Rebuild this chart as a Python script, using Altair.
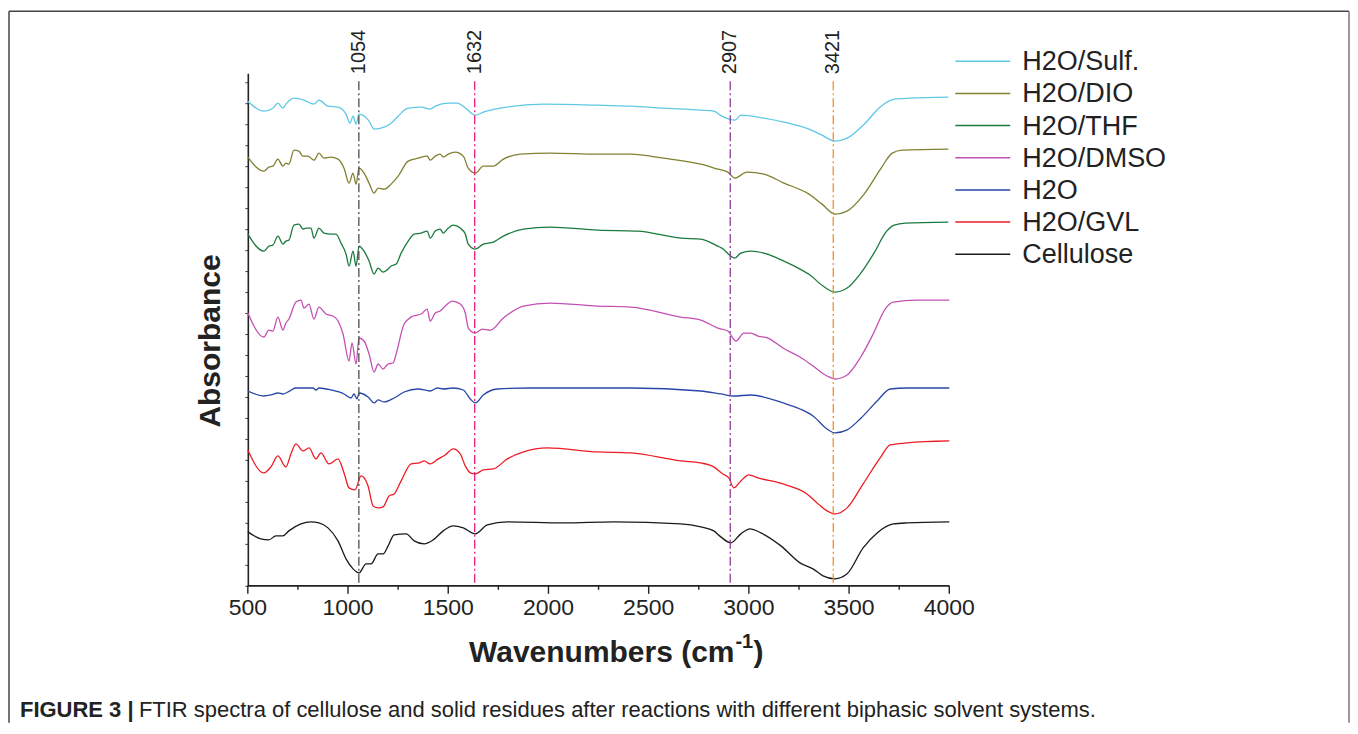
import altair as alt
import pandas as pd

FONT = "Liberation Sans, Arial, sans-serif"

series_names = ["H2O/Sulf.", "H2O/DIO", "H2O/THF", "H2O/DMSO", "H2O", "H2O/GVL", "Cellulose"]
series_colors = ["#5ec8e5", "#808030", "#1b7a3e", "#c450b4", "#2846a8", "#ee1c24", "#1a1a1a"]

# --- spectra (wavenumber cm-1, absorbance a.u. with vertical stacking offsets) ---
sulf_wn = [500, 580, 625, 650, 675, 690, 730, 780, 830, 855, 900, 950, 990, 1010, 1025, 1040, 1055,
           1105, 1130, 1180, 1215, 1250, 1300, 1365, 1410, 1435, 1500, 1545, 1575, 1635, 1675, 1760,
           1975, 2245, 2410, 2575, 2760, 2825, 2865, 2930, 2960, 3075, 3175, 3300, 3365, 3430, 3490,
           3575, 3660, 3725, 3805, 3995]
sulf_abs = [485, 475, 478, 483, 478, 482, 488, 486, 482, 486, 480, 479, 472, 463, 470, 462, 472,
            465, 457, 459, 463, 470, 478, 479, 477, 480, 483, 483, 480, 471, 474, 478,
            482, 481, 480, 478, 476, 475, 470, 466, 471, 468, 464, 457, 451, 445, 448,
            462, 480, 487, 488, 489]

dio_wn = [500, 580, 605, 625, 650, 675, 690, 705, 730, 755, 775, 800, 830, 855, 880, 915, 950, 980,
          1005, 1025, 1040, 1055, 1080, 1105, 1130, 1150, 1180, 1215, 1250, 1300, 1350, 1395, 1410,
          1435, 1460, 1475, 1500, 1535, 1575, 1600, 1635, 1675, 1725, 1775, 1860, 2010, 2245, 2410,
          2575, 2760, 2845, 2895, 2930, 2990, 3075, 3175, 3300, 3365, 3430, 3490, 3575, 3660, 3715,
          3765, 3995]
dio_abs = [429, 415, 419, 420, 427, 420, 423, 422, 436, 435, 430, 430, 426, 433, 428, 429, 427, 418,
           403, 413, 402, 418, 413, 403, 393, 398, 397, 402, 410, 425, 428, 430, 426,
           430, 432, 429, 432, 434, 430, 418, 413, 420, 420, 427, 432, 433, 432, 432,
           428, 422, 417, 414, 408, 414, 412, 403, 392, 382, 372, 375, 392, 418, 433,
           436, 437]

thf_wn = [500, 580, 605, 625, 650, 675, 690, 705, 730, 755, 775, 790, 815, 830, 855, 880, 915, 940,
          965, 990, 1005, 1025, 1040, 1055, 1080, 1105, 1130, 1150, 1175, 1200, 1215, 1240, 1265,
          1300, 1330, 1365, 1395, 1410, 1435, 1460, 1475, 1500, 1525, 1560, 1585, 1600, 1635, 1675,
          1725, 1775, 1875, 2010, 2245, 2445, 2660, 2760, 2845, 2865, 2930, 2960, 3010, 3075, 3175,
          3255, 3305, 3370, 3430, 3490, 3555, 3630, 3680, 3725, 3780, 3995]
thf_abs = [352, 335, 340, 341, 350, 342, 345, 346, 361, 362, 357, 358, 358, 348, 358, 353, 352, 352,
           343, 332, 320, 335, 320, 340, 335, 325, 312, 318, 314, 317, 320, 322, 333,
           345, 352, 353, 355, 348, 355, 357, 353, 358, 361, 358, 352, 342, 337, 342,
           344, 350, 357, 359, 356, 355, 348, 347, 340, 338, 328, 333, 335, 333, 325,
           317, 311, 300, 294, 298, 312, 335, 353, 361, 363, 364]

dmso_wn = [500, 580, 605, 625, 650, 675, 690, 705, 740, 765, 780, 805, 830, 855, 890, 925, 950, 975,
           1005, 1020, 1040, 1055, 1080, 1105, 1130, 1150, 1175, 1200, 1225, 1240, 1280, 1325, 1365,
           1395, 1410, 1435, 1460, 1485, 1520, 1560, 1585, 1600, 1635, 1670, 1710, 1775, 1875, 2010,
           2245, 2410, 2660, 2760, 2845, 2895, 2935, 2975, 3010, 3045, 3095, 3170, 3255, 3320, 3390,
           3430, 3490, 3555, 3620, 3680, 3720, 3840, 4000]
dmso_abs = [273, 249, 256, 255, 269, 256, 263, 267, 284, 286, 278, 282, 267, 279, 272, 270, 265, 252,
            225, 243, 222, 248, 245, 232, 214, 222, 217, 222, 223, 232, 262, 270, 272,
            277, 265, 273, 275, 280, 285, 282, 273, 258, 253, 257, 256, 268, 280, 283,
            280, 279, 269, 266, 258, 255, 245, 253, 253, 250, 248, 238, 229, 220, 210,
            207, 211, 228, 252, 277, 284, 286, 286]

h2o_wn = [500, 580, 615, 650, 675, 700, 740, 780, 825, 840, 855, 915, 980, 1015, 1030, 1045, 1055,
          1100, 1130, 1150, 1180, 1230, 1280, 1350, 1410, 1445, 1475, 1525, 1575, 1610, 1635, 1675,
          1745, 1910, 2410, 2760, 2860, 2925, 3010, 3170, 3255, 3320, 3390, 3430, 3490, 3555, 3640,
          3705, 3790, 4000]
h2o_abs = [195, 190, 191, 193, 192, 194, 198, 198, 198, 196, 198, 196, 192, 188, 192, 187, 193,
           189, 183, 186, 184, 188, 194, 197, 195, 198, 197, 198, 196, 187, 183, 191,
           197, 198, 198, 195, 192, 190, 191, 183, 177, 170, 157, 153, 156, 167, 185,
           197, 198, 198]

gvl_wn = [500, 580, 615, 650, 690, 715, 740, 775, 805, 840, 865, 905, 950, 980, 1005, 1035, 1065,
          1100, 1125, 1150, 1175, 1205, 1230, 1265, 1315, 1355, 1380, 1410, 1450, 1485, 1525, 1560,
          1585, 1610, 1635, 1675, 1725, 1795, 1875, 1995, 2245, 2410, 2660, 2760, 2825, 2870, 2900,
          2925, 2960, 3000, 3045, 3170, 3290, 3340, 3390, 3430, 3490, 3570, 3655, 3705, 3790, 4000]
gvl_abs = [136, 113, 119, 130, 119, 132, 142, 135, 138, 127, 133, 122, 127, 113, 98, 96, 110,
           100, 80, 78, 79, 90, 92, 105, 122, 123, 125, 122, 127, 131, 137, 132,
           120, 113, 112, 116, 117, 127, 134, 138, 134, 133, 125, 123, 119, 112, 108,
           98, 105, 111, 108, 102, 92, 83, 75, 72, 78, 102, 128, 141, 143, 145]

cell_wn = [500, 565, 605, 640, 675, 705, 765, 815, 855, 900, 950, 990, 1025, 1055, 1090, 1115, 1150,
           1175, 1200, 1230, 1290, 1330, 1380, 1425, 1475, 1525, 1575, 1635, 1695, 1795, 2075, 2325,
           2660, 2760, 2825, 2860, 2910, 2960, 3005, 3060, 3160, 3255, 3320, 3370, 3430, 3490, 3570,
           3640, 3720, 3790, 4000]
cell_abs = [54, 47, 46, 50, 50, 55, 62, 64, 63, 58, 45, 27, 17, 13, 22, 22, 32,
            32, 40, 51, 52, 45, 42, 46, 55, 60, 58, 52, 61, 64, 63, 64,
            62, 59, 55, 49, 43, 52, 57, 53, 40, 23, 17, 10, 7, 12, 38,
            53, 62, 63, 64]

# --- marked bands ---
peak_wn = [1054, 1632, 2907, 3421]
peak_labels = ["1054", "1632", "2907", "3421"]
peak_colors = ["#4d4d4d", "#ec1c7c", "#8e3d96", "#f5922a"]

# --- axis ticks ---
x_major_ticks = [500, 1000, 1500, 2000, 2500, 3000, 3500, 4000]
x_tick_labels = ["500", "1000", "1500", "2000", "2500", "3000", "3500", "4000"]
x_minor_ticks = [750, 1250, 1750, 2250, 2750, 3250, 3750]
y_tick_values = [0, 21, 42, 63, 84, 105, 126, 147, 168, 189, 210, 231, 252, 273, 294, 315, 336, 357,
                 378, 399, 420, 441, 462, 483, 504]

caption_bold = "FIGURE 3 |"
caption_text = "FTIR spectra of cellulose and solid residues after reactions with different biphasic solvent systems."

# ---------------------------------------------------------------------------
all_series = [
    ("H2O/Sulf.", sulf_wn, sulf_abs),
    ("H2O/DIO", dio_wn, dio_abs),
    ("H2O/THF", thf_wn, thf_abs),
    ("H2O/DMSO", dmso_wn, dmso_abs),
    ("H2O", h2o_wn, h2o_abs),
    ("H2O/GVL", gvl_wn, gvl_abs),
    ("Cellulose", cell_wn, cell_abs),
]
rows = []
for name, wns, vals in all_series:
    for w, v in zip(wns, vals):
        rows.append({"series": name, "wn": w, "absorb": v})
spectra = pd.DataFrame(rows)
peaks = pd.DataFrame({"wn": peak_wn, "label": peak_labels, "color": peak_colors})
major = pd.DataFrame({"wn": x_major_ticks, "label": x_tick_labels})
minor = pd.DataFrame({"wn": x_minor_ticks})

W, H = 702, 513
xscale = alt.Scale(domain=[500, 4000], nice=False, zero=False)
yscale = alt.Scale(domain=[0, 513], nice=False, zero=False)
color_scale = alt.Scale(domain=series_names, range=series_colors)
AX = "#222"

lines = alt.Chart(spectra).mark_line(strokeWidth=1.3, interpolate="monotone").encode(
    x=alt.X("wn:Q", scale=xscale, axis=None),
    y=alt.Y("absorb:Q", scale=yscale, axis=alt.Axis(
        values=y_tick_values, labels=False, title=None, grid=False, tickSize=3,
        domainColor=AX, domainWidth=1.6, tickColor="#444", tickWidth=1)),
    color=alt.Color("series:N", scale=color_scale, legend=None),
    order=alt.Order("wn:Q"),
)

one = alt.Data(values=[{"a": 1}])

# x axis drawn through the x scale
x_domain = alt.Chart(one).mark_rule(color=AX, strokeWidth=1.6).encode(
    x=alt.value(0), x2=alt.value(W), y=alt.value(H))
major_ticks = alt.Chart(major).mark_rule(color=AX, strokeWidth=1.4).encode(
    x=alt.X("wn:Q", scale=xscale, axis=None), y=alt.value(H), y2=alt.value(H + 8))
minor_ticks = alt.Chart(minor).mark_rule(color=AX, strokeWidth=1.4).encode(
    x=alt.X("wn:Q", scale=xscale, axis=None), y=alt.value(H), y2=alt.value(H + 4))
tick_labels = alt.Chart(major).mark_text(align="center", baseline="middle", font=FONT,
                                         fontSize=23, color=AX).encode(
    x=alt.X("wn:Q", scale=xscale, axis=None), y=alt.value(H + 22), text="label:N")

markers = alt.Chart(peaks).mark_rule(strokeDash=[9, 3, 2, 3], strokeWidth=1.3).encode(
    x=alt.X("wn:Q", scale=xscale, axis=None),
    y=alt.value(8), y2=alt.value(H),
    color=alt.Color("color:N", scale=None),
)

marker_text = alt.Chart(peaks).mark_text(angle=270, align="left", baseline="middle",
                                         font=FONT, fontSize=20, color=AX).encode(
    x=alt.X("wn:Q", scale=xscale, axis=None),
    y=alt.value(1),
    text="label:N",
)

# legend (one row per series)
legend_layers = []
for i, (name, col) in enumerate(zip(series_names, series_colors)):
    yy = -12 + 32.2 * i
    legend_layers.append(alt.Chart(one).mark_rule(strokeWidth=1.5, color=col).encode(
        x=alt.value(708), x2=alt.value(763), y=alt.value(yy)))
    legend_layers.append(alt.Chart(one).mark_text(align="left", baseline="middle", font=FONT,
                                                  fontSize=27, color=AX).encode(
        x=alt.value(775), y=alt.value(yy + 1), text=alt.value(name)))

# figure frame (top, left, right)
frame_top = alt.Chart(one).mark_rule(color="#444", strokeWidth=1.5).encode(
    x=alt.value(-239), x2=alt.value(1102), y=alt.value(-62))
frame_left = alt.Chart(one).mark_rule(color="#444", strokeWidth=1.5).encode(
    x=alt.value(-239), y=alt.value(-62), y2=alt.value(650))
frame_right = alt.Chart(one).mark_rule(color="#777", strokeWidth=1.5).encode(
    x=alt.value(1102), y=alt.value(-62), y2=alt.value(650))

xtitle_main = alt.Chart(one).mark_text(align="right", baseline="alphabetic", font=FONT,
                                       fontSize=30, fontWeight="bold", color=AX).encode(
    x=alt.value(487), y=alt.value(589), text=alt.value("Wavenumbers (cm"))
xtitle_sup = alt.Chart(one).mark_text(align="left", baseline="alphabetic", font=FONT,
                                      fontSize=20, fontWeight="bold", color=AX).encode(
    x=alt.value(488), y=alt.value(575), text=alt.value("-1"))
xtitle_close = alt.Chart(one).mark_text(align="left", baseline="alphabetic", font=FONT,
                                        fontSize=30, fontWeight="bold", color=AX).encode(
    x=alt.value(506), y=alt.value(589), text=alt.value(")"))

ytitle = alt.Chart(one).mark_text(angle=270, align="center", baseline="middle", font=FONT,
                                  fontSize=30, fontWeight="bold", color=AX).encode(
    x=alt.value(-37), y=alt.value(268), text=alt.value("Absorbance"))

cap1 = alt.Chart(one).mark_text(align="left", baseline="alphabetic", font=FONT,
                                fontSize=22, fontWeight="bold", color=AX).encode(
    x=alt.value(-228), y=alt.value(644), text=alt.value(caption_bold))
cap2 = alt.Chart(one).mark_text(align="left", baseline="alphabetic", font=FONT,
                                fontSize=22, color=AX).encode(
    x=alt.value(-109), y=alt.value(644), text=alt.value(caption_text))

chart = alt.layer(frame_top, frame_left, frame_right, lines, x_domain, major_ticks, minor_ticks,
                  tick_labels, markers, marker_text, *legend_layers,
                  xtitle_main, xtitle_sup, xtitle_close, ytitle, cap1, cap2
                  ).properties(
    width=W, height=H, padding={"left": 0, "top": 2, "right": 0, "bottom": 0}
).configure(background="white").configure_view(stroke=None)

chart.save("out.html", embed_options={"renderer": "svg", "actions": False})
